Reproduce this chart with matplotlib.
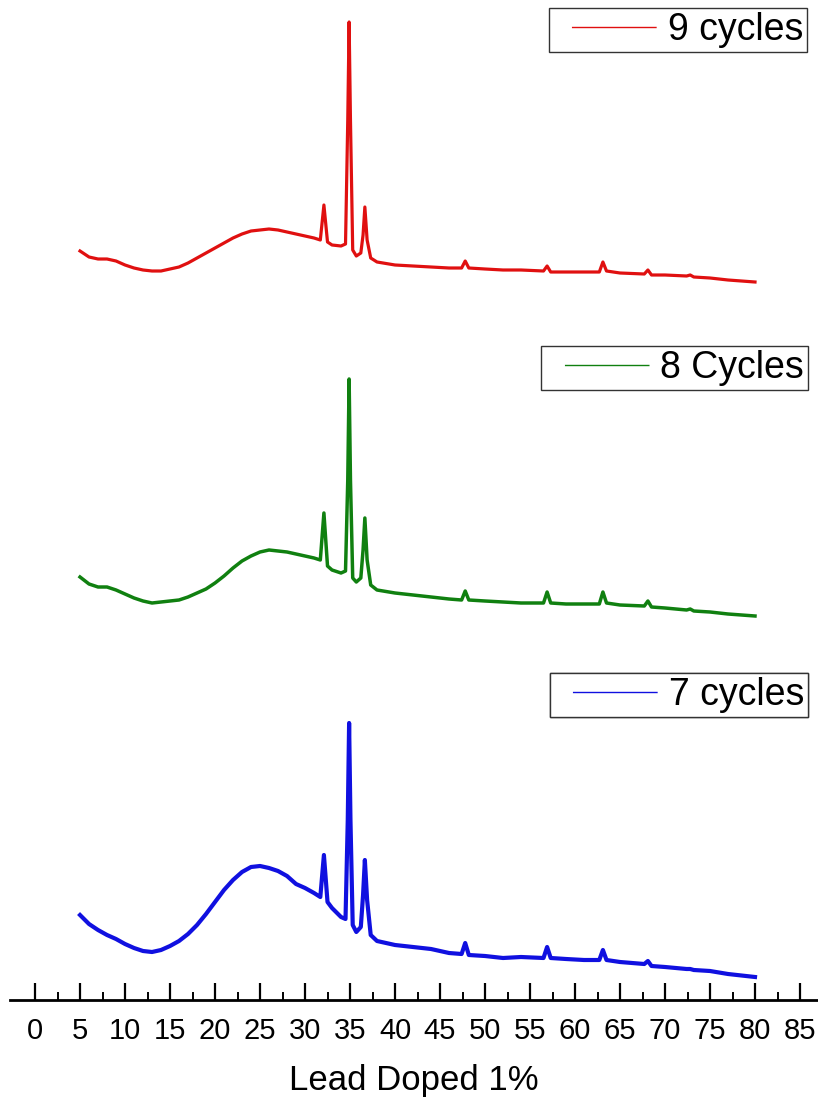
import matplotlib.pyplot as plt
from matplotlib.lines import Line2D

plt.rcParams['font.family'] = ['Liberation Sans', 'DejaVu Sans']

# 2-theta positions (deg)
two_theta = [5, 6, 7, 8, 9, 10, 11, 12, 13, 14, 15, 16, 17, 18, 19, 20, 21, 22, 23, 24,
             25, 26, 27, 28, 29, 30, 31, 31.7, 32.1, 32.5, 33, 34, 34.5, 34.75, 34.9,
             35.05, 35.3, 35.7, 36.2, 36.45, 36.65, 36.9, 37.3, 38, 40, 42, 44, 46,
             47.4, 47.8, 48.2, 50, 52, 54, 56.5, 56.9, 57.3, 59, 61, 62.7, 63.1, 63.5,
             65, 67.7, 68.1, 68.5, 70, 72.4, 72.8, 73.2, 75, 77, 80]

# intensities (a.u.)
cycles_9 = [39, 33, 31, 31, 29, 25, 22, 20, 19, 19, 21, 23, 27, 32, 37, 42, 47, 52, 56, 59,
            60, 61, 60, 58, 56, 54, 52, 50, 85, 48, 45, 44, 46, 170, 268,
            170, 40, 34, 37, 55, 83, 50, 32, 28, 25, 24, 23, 22,
            22, 29, 22, 21, 20, 20, 19, 24, 18, 18, 18, 18, 28, 19,
            17, 16, 20, 15, 15, 14, 15, 13, 12, 10, 8]

cycles_8 = [48, 41, 38, 38, 35, 31, 27, 24, 22, 23, 24, 25, 28, 32, 36, 42, 49, 57, 64, 69,
            73, 75, 74, 73, 71, 69, 67, 65, 112, 59, 55, 52, 54, 145, 246,
            145, 47, 43, 47, 75, 107, 65, 40, 35, 32, 30, 28, 26,
            25, 34, 25, 24, 23, 22, 22, 33, 22, 21, 21, 21, 33, 22,
            20, 19, 24, 18, 17, 15, 16, 14, 13, 11, 9]

cycles_7 = [70, 61, 55, 50, 46, 41, 37, 34, 33, 35, 39, 44, 51, 60, 71, 83, 95, 105, 113, 118,
            119, 117, 114, 109, 101, 97, 92, 88, 130, 83, 77, 68, 66, 165, 262,
            165, 60, 53, 58, 90, 125, 85, 50, 44, 40, 38, 36, 32,
            31, 42, 30, 29, 27, 28, 27, 38, 27, 26, 25, 25, 35, 25,
            23, 21, 24, 19, 18, 16, 16, 15, 14, 11, 8]

series = [("9 cycles", cycles_9, "#e01010"),
          ("8 Cycles", cycles_8, "#108010"),
          ("7 cycles", cycles_7, "#1010e0")]

fig = plt.figure(figsize=(8.18, 11.03), dpi=100)
ax = fig.add_axes([10 / 818, 103 / 1103, 808 / 818, 1000 / 1103])

offsets = [710, 375, 15]
widths = [2.3, 2.5, 3.0]
legend_anchor = [(807, 8), (808, 346), (808, 673)]

for (label, vals, color), off, lw, (lx, ly) in zip(series, offsets, widths, legend_anchor):
    ax.plot(two_theta, [v + off for v in vals], color=color, lw=lw)
    # legend sample line with a blank lead-in, as in the original box
    handle = Line2D([], [], color=color, lw=1.0, linestyle=(61, (61, 14)))
    leg = ax.legend([handle], [label], loc='upper right',
                    bbox_to_anchor=(lx / 818, 1 - ly / 1103), bbox_transform=fig.transFigure,
                    fontsize=27, frameon=True, fancybox=False, framealpha=1,
                    edgecolor='#333333', handlelength=2.78, handletextpad=0.3,
                    borderpad=0.1, borderaxespad=0)
    leg.get_frame().set_linewidth(1.0)
    ax.add_artist(leg)

ax.set_xlim(-2.78, 87)
ax.set_ylim(0, 1000)
ax.set_xticks(range(0, 90, 5))
ax.set_xticks([x + 2.5 for x in range(0, 85, 5)], minor=True)
ax.tick_params(axis='x', which='major', direction='in', length=12, width=1.6,
               labelsize=21, pad=12)
ax.tick_params(axis='x', which='minor', direction='in', length=6, width=1.4)
ax.set_yticks([])
for side in ['top', 'right', 'left']:
    ax.spines[side].set_visible(False)
ax.spines['bottom'].set_linewidth(2)
ax.set_xlabel("Lead Doped 1%", fontsize=25, labelpad=14)

fig.savefig("out.png", dpi=100)
